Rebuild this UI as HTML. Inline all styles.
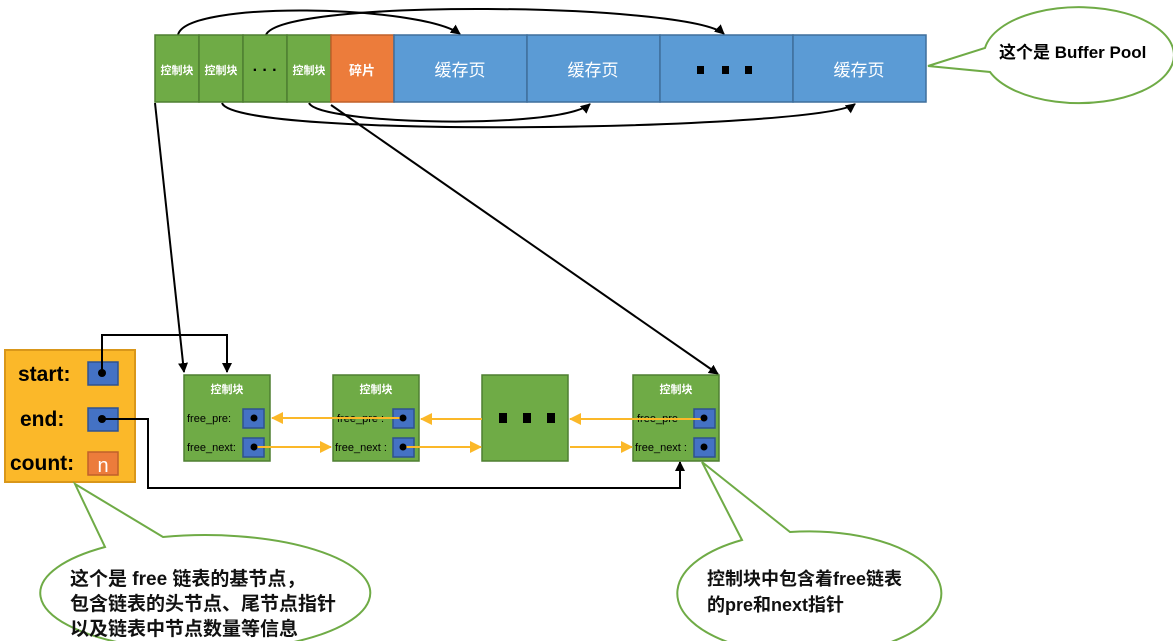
<!DOCTYPE html>
<html><head><meta charset="utf-8"><style>
html,body{margin:0;padding:0;background:#fff;}
svg{display:block;font-family:"Liberation Sans","Noto Sans CJK SC",sans-serif;}
</style></head><body>
<svg width="1173" height="641" viewBox="0 0 1173 641" xmlns="http://www.w3.org/2000/svg">
<defs>
<marker id="ab" markerWidth="10" markerHeight="10" refX="9" refY="5" orient="auto" markerUnits="userSpaceOnUse"><path d="M0,0 L10,5 L0,10 z" fill="#000"/></marker>
<marker id="ay" markerWidth="12" markerHeight="12" refX="11" refY="6" orient="auto" markerUnits="userSpaceOnUse"><path d="M0,0 L12,6 L0,12 z" fill="#fbb829"/></marker>
</defs>

<g fill="none" stroke="#000" stroke-width="2">
<path d="M178,35 C185,0 420,5 460,34" marker-end="url(#ab)"/>
<path d="M266,35 C280,-2 690,3 724,34" marker-end="url(#ab)"/>
<path d="M222,103 C235,140 820,130 855,104" marker-end="url(#ab)"/>
<path d="M309,103 C320,125 560,130 590,104" marker-end="url(#ab)"/>
<path d="M155,103 L184,372" marker-end="url(#ab)"/>
<path d="M331,105 L718,374" marker-end="url(#ab)"/>
</g>

<g stroke="#4e7f31" stroke-width="1.5">
<rect x="155" y="35" width="44" height="67" fill="#6fab46"/>
<rect x="199" y="35" width="44" height="67" fill="#6fab46"/>
<rect x="243" y="35" width="44" height="67" fill="#6fab46"/>
<rect x="287" y="35" width="44" height="67" fill="#6fab46"/>
</g>
<rect x="331" y="35" width="63" height="67" fill="#ec7c3b" stroke="#c0602a" stroke-width="1.5"/>
<g fill="#5b9bd5" stroke="#3f6f9c" stroke-width="1.5">
<rect x="394" y="35" width="133" height="67"/>
<rect x="527" y="35" width="133" height="67"/>
<rect x="660" y="35" width="133" height="67"/>
<rect x="793" y="35" width="133" height="67"/>
</g>
<g fill="#fff" font-weight="bold" font-size="11" text-anchor="middle">
<text x="177" y="74">控制块</text>
<text x="221" y="74">控制块</text>
<text x="309" y="74">控制块</text>
<text x="362" y="75" font-size="13">碎片</text>
</g>
<text x="265" y="75" font-size="16" font-weight="bold" text-anchor="middle">· · ·</text>
<g fill="#fff" font-size="17" text-anchor="middle">
<text x="460" y="76">缓存页</text>
<text x="593" y="76">缓存页</text>
<text x="859" y="76">缓存页</text>
</g>
<g fill="#000"><rect x="697" y="66" width="7" height="8"/><rect x="722" y="66" width="7" height="8"/><rect x="745" y="66" width="7" height="8"/></g>

<path d="M928,66 L985,48 A95,48 0 1 1 990,72 Z" fill="#fff" stroke="#6fab46" stroke-width="2"/>
<text x="999" y="58" font-size="17" font-weight="bold">这个是 Buffer Pool</text>

<rect x="5" y="350" width="130" height="132" fill="#fbb829" stroke="#d9971a" stroke-width="2"/>
<g font-size="21" font-weight="bold" fill="#000">
<text x="18" y="381">start:</text>
<text x="20" y="426">end:</text>
<text x="10" y="470">count:</text>
</g>
<rect x="88" y="362" width="30" height="23" fill="#4472c4" stroke="#2f528f" stroke-width="1.5"/>
<rect x="88" y="408" width="30" height="23" fill="#4472c4" stroke="#2f528f" stroke-width="1.5"/>
<rect x="88" y="452" width="30" height="23" fill="#ec7c3b" stroke="#c0602a" stroke-width="1.5"/>
<text x="103" y="472" font-size="20" fill="#fff" text-anchor="middle">n</text>

<g fill="none" stroke="#000" stroke-width="2">
<path d="M102,373 L102,335 L227,335 L227,372" marker-end="url(#ab)"/>
<path d="M102,419 L148,419 L148,488 L680,488 L680,462" marker-end="url(#ab)"/>
</g>
<circle cx="102" cy="373" r="4"/><circle cx="102" cy="419" r="4"/>

<g fill="#6fab46" stroke="#4e7f31" stroke-width="1.5">
<rect x="184" y="375" width="86" height="86"/>
<rect x="333" y="375" width="86" height="86"/>
<rect x="482" y="375" width="86" height="86"/>
<rect x="633" y="375" width="86" height="86"/>
</g>
<g fill="#fff" font-size="11" font-weight="bold" text-anchor="middle">
<text x="227" y="393">控制块</text>
<text x="376" y="393">控制块</text>
<text x="676" y="393">控制块</text>
</g>
<g fill="#000"><rect x="499" y="413" width="8" height="10"/><rect x="523" y="413" width="8" height="10"/><rect x="547" y="413" width="8" height="10"/></g>
<g fill="#4472c4" stroke="#2f528f" stroke-width="1.5">
<rect x="243" y="409" width="21" height="19"/><rect x="243" y="438" width="21" height="19"/>
<rect x="393" y="409" width="21" height="19"/><rect x="393" y="438" width="21" height="19"/>
<rect x="694" y="409" width="21" height="19"/><rect x="694" y="438" width="21" height="19"/>
</g>
<g font-size="11" fill="#000">
<text x="187" y="422">free_pre:</text>
<text x="187" y="451">free_next:</text>
<text x="337" y="422">free_pre :</text>
<text x="335" y="451">free_next :</text>
<text x="637" y="422">free_pre</text>
<text x="635" y="451">free_next :</text>
</g>

<g fill="none" stroke="#fbb829" stroke-width="2">
<path d="M403,418 L272,418" marker-end="url(#ay)"/>
<path d="M254,447 L331,447" marker-end="url(#ay)"/>
<path d="M482,419 L421,419" marker-end="url(#ay)"/>
<path d="M403,447 L481,447" marker-end="url(#ay)"/>
<path d="M704,419 L570,419" marker-end="url(#ay)"/>
<path d="M570,447 L632,447" marker-end="url(#ay)"/>
</g>
<g fill="#000">
<circle cx="254" cy="418" r="3.5"/><circle cx="254" cy="447" r="3.5"/>
<circle cx="403" cy="418" r="3.5"/><circle cx="403" cy="447" r="3.5"/>
<circle cx="704" cy="418" r="3.5"/><circle cx="704" cy="447" r="3.5"/>
</g>

<path d="M75,484 L163,537 A165,58 0 1 1 105,547 Z" fill="#fff" stroke="#6fab46" stroke-width="2"/>
<g font-size="19" font-weight="bold" fill="#111">
<text x="70" y="585">这个是 free 链表的基节点，</text>
<text x="70" y="610">包含链表的头节点、尾节点指针</text>
<text x="70" y="635">以及链表中节点数量等信息</text>
</g>

<path d="M702,462 L790,532 A132,62 0 1 1 742,540 Z" fill="#fff" stroke="#6fab46" stroke-width="2"/>
<g font-size="18" font-weight="bold" fill="#111">
<text x="707" y="585">控制块中包含着free链表</text>
<text x="707" y="611">的pre和next指针</text>
</g>
</svg>
</body></html>
